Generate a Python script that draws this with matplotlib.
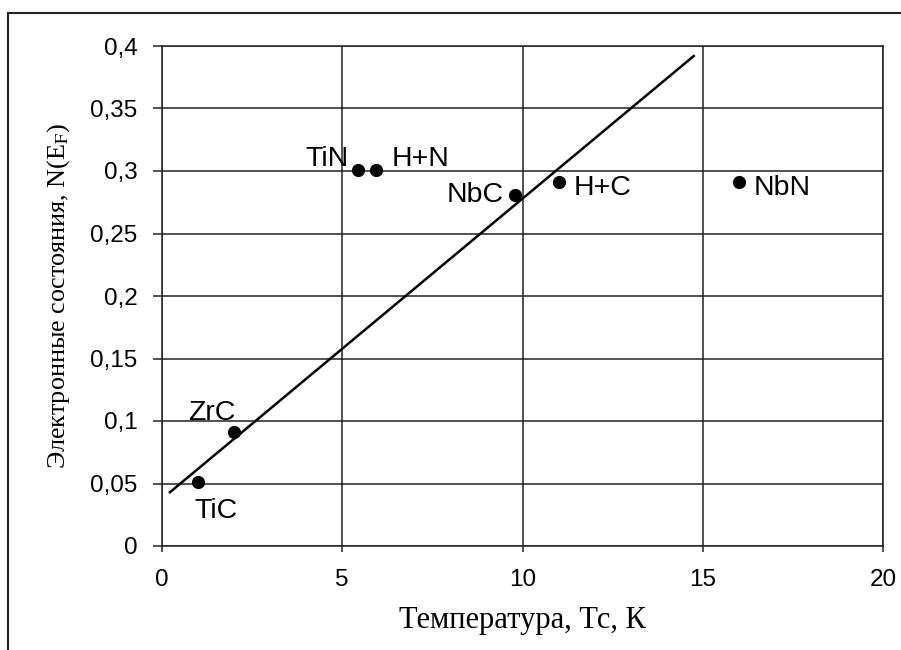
import numpy as np
import matplotlib.pyplot as plt
from matplotlib.lines import Line2D
from matplotlib.ticker import FuncFormatter

# data
names = ['TiC', 'ZrC', 'TiN', 'H+N', 'NbC', 'H+C', 'NbN']
tc = [1.0, 2.0, 5.45, 5.95, 9.8, 11.0, 16.0]
nef = [0.051, 0.091, 0.301, 0.301, 0.281, 0.291, 0.291]

# trend line ends
trend_x = [0.22, 14.75]
trend_y = [0.043, 0.392]

# label offsets in points, with alignment
offsets = {
    'TiC': (-3, -21, 'left', 'center'),
    'ZrC': (-33, 14, 'left', 'center'),
    'TiN': (-7, 8, 'right', 'center'),
    'H+N': (11, 8, 'left', 'center'),
    'NbC': (-8, 0, 'right', 'center'),
    'H+C': (11, -4, 'left', 'center'),
    'NbN': (11, -4, 'left', 'center'),
}

plt.rcParams['mathtext.fontset'] = 'stix'

fig = plt.figure(figsize=(9.01, 6.5), dpi=100)
ax = fig.add_axes([162/901, 1 - 546/650, (883-162)/901, (546-46)/650])

gc = '#222222'
ax.set_xlim(0, 20)
ax.set_ylim(0, 0.4)
ax.set_xticks(np.arange(0, 21, 5))
ax.set_yticks(np.arange(0, 0.401, 0.05))
ax.grid(True, color=gc, lw=1.1)
ax.set_axisbelow(True)
for s in ax.spines.values():
    s.set_color(gc)
    s.set_linewidth(1.1)

def comma(v, pos):
    s = ('%.2f' % v).rstrip('0').rstrip('.')
    return s.replace('.', ',')

ax.yaxis.set_major_formatter(FuncFormatter(comma))
ax.tick_params(axis='y', length=6.5, width=1.1, color=gc, pad=11,
               labelsize=17.5, labelfontfamily='Liberation Sans')
ax.tick_params(axis='x', length=4.5, width=1.1, color=gc, pad=12,
               labelsize=17.5, labelfontfamily='Liberation Sans')

ax.plot(trend_x, trend_y, color='black', lw=1.8, zorder=3)
ax.plot(tc, nef, 'o', color='black', ms=8.5, zorder=4)

for n, x, y in zip(names, tc, nef):
    dx, dy, ha, va = offsets[n]
    ax.annotate(n, (x, y), xytext=(dx, dy), textcoords='offset points',
                ha=ha, va=va, fontsize=20.5, family='Liberation Sans')

ax.set_xlabel('Температура, Тс, К', family='Liberation Serif', fontsize=22, labelpad=11)
ax.set_ylabel(r'Электронные состояния, N(E$_\mathrm{F}$)', family='Liberation Serif',
              fontsize=18.8, labelpad=13)

# outer frame
fig.add_artist(Line2D([8/901, 8/901], [0, 1 - 13/650], color='#222222', lw=1.5))
fig.add_artist(Line2D([8/901, 1], [1 - 13/650, 1 - 13/650], color='#222222', lw=1.5))

fig.savefig('out.png', dpi=100)
